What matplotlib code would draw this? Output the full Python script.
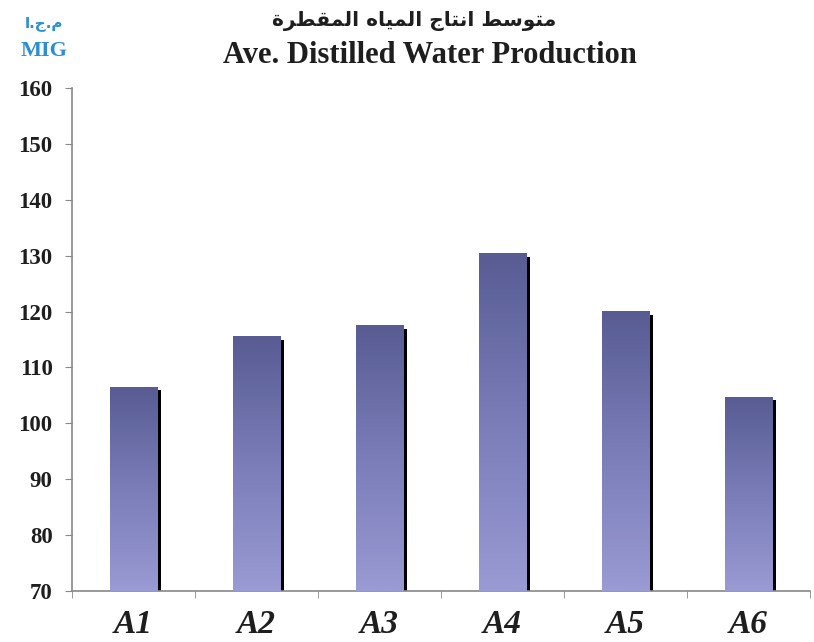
import matplotlib.pyplot as plt
import numpy as np
from matplotlib.colors import LinearSegmentedColormap

# DADOS
categorias = ['A1', 'A2', 'A3', 'A4', 'A5', 'A6']
valores = [106.5, 115.5, 117.5, 130.4, 120.0, 104.7]
yticks = [70, 80, 90, 100, 110, 120, 130, 140, 150, 160]

titulo_ar = 'متوسط انتاج المياه المقطرة'
titulo_en = 'Ave. Distilled Water Production'
unidade_ar = 'م.ج.ا'
unidade_en = 'MIG'

# formas arabes (isolada, final, inicial, medial)
formas = {
    'ا': ('\uFE8D', '\uFE8E', None, None),
    'ت': ('\uFE95', '\uFE96', '\uFE97', '\uFE98'),
    'ج': ('\uFE9D', '\uFE9E', '\uFE9F', '\uFEA0'),
    'ر': ('\uFEAD', '\uFEAE', None, None),
    'س': ('\uFEB1', '\uFEB2', '\uFEB3', '\uFEB4'),
    'ط': ('\uFEC1', '\uFEC2', '\uFEC3', '\uFEC4'),
    'ق': ('\uFED5', '\uFED6', '\uFED7', '\uFED8'),
    'ل': ('\uFEDD', '\uFEDE', '\uFEDF', '\uFEE0'),
    'م': ('\uFEE1', '\uFEE2', '\uFEE3', '\uFEE4'),
    'ن': ('\uFEE5', '\uFEE6', '\uFEE7', '\uFEE8'),
    'ه': ('\uFEE9', '\uFEEA', '\uFEEB', '\uFEEC'),
    'و': ('\uFEED', '\uFEEE', None, None),
    'ي': ('\uFEF1', '\uFEF2', '\uFEF3', '\uFEF4'),
    'ة': ('\uFE93', '\uFE94', None, None),
}


def junta_esq(c):
    return c in formas and formas[c][2] is not None


def molda(texto):
    palavras = []
    for p in texto.split(' '):
        out = []
        for i, c in enumerate(p):
            if c not in formas:
                out.append(c)
                continue
            ant = i > 0 and junta_esq(p[i-1])
            prox = i < len(p)-1 and p[i+1] in formas and junta_esq(c)
            f = formas[c]
            if ant and prox:
                out.append(f[3])
            elif ant:
                out.append(f[1])
            elif prox:
                out.append(f[2])
            else:
                out.append(f[0])
        palavras.append(''.join(out[::-1]))
    return ' '.join(palavras[::-1])


# FIGURA
fig = plt.figure(figsize=(8.14, 6.42), dpi=100)
ax = fig.add_axes([0.0885, 0.0794, 0.9066, 0.7835])

x = np.arange(len(categorias))
larg = 0.39
cmap = LinearSegmentedColormap.from_list('barra', ['#9a9ad4', '#7a7db8', '#585c93'])
grad = np.linspace(0, 1, 256).reshape(-1, 1)

barras = ax.bar(x, np.array(valores) - 70, larg, bottom=70, facecolor='none',
                edgecolor='none', zorder=3)
for b, v in zip(barras, valores):
    x0 = b.get_x()
    x1 = x0 + b.get_width()
    ax.imshow(grad, extent=[x0, x1, 70, v], origin='lower', aspect='auto',
              cmap=cmap, zorder=3)
    # sombra
    ax.bar(x1 + 0.016, v - 70 - 0.6, 0.032, bottom=70, color='black', zorder=2)

ax.set_xlim(-0.5, 5.5)
ax.set_ylim(70, 160)
ax.set_yticks(yticks)
ax.set_yticklabels([str(t) for t in yticks], fontsize=16.5, fontweight='bold',
                   family='Liberation Serif', color='#1e1e1e')
ax.set_xticks(x)
ax.set_xticklabels(categorias, fontsize=24, fontweight='bold', fontstyle='italic',
                   family='Liberation Serif', color='#1e1e1e')
ax.set_xticks(np.arange(-0.5, 6, 1), minor=True)
ax.tick_params(axis='x', which='major', length=0, pad=13)
ax.tick_params(axis='x', which='minor', length=5, color='#888888', direction='out')
ax.tick_params(axis='y', length=5, color='#888888', pad=9)

for s in ['top', 'right']:
    ax.spines[s].set_visible(False)
for s in ['left', 'bottom']:
    ax.spines[s].set_color('#888888')
    ax.spines[s].set_linewidth(1.2)

fig.text(0.509, 0.968, molda(titulo_ar), ha='center', va='center', fontsize=14.5,
         fontweight='bold', family=['DejaVu Sans'], color='#1e1e1e')
fig.text(0.528, 0.913, titulo_en, ha='center', va='center', fontsize=22,
         fontweight='bold', family='Liberation Serif', color='#1e1e1e')
fig.text(0.054, 0.963, molda(unidade_ar), ha='center', va='center', fontsize=11,
         fontweight='bold', family=['DejaVu Sans'], color='#2b8fd0')
fig.text(0.054, 0.920, unidade_en, ha='center', va='center', fontsize=16,
         fontweight='bold', family='Liberation Serif', color='#2b8fd0')

fig.savefig('out.png', dpi=100)
